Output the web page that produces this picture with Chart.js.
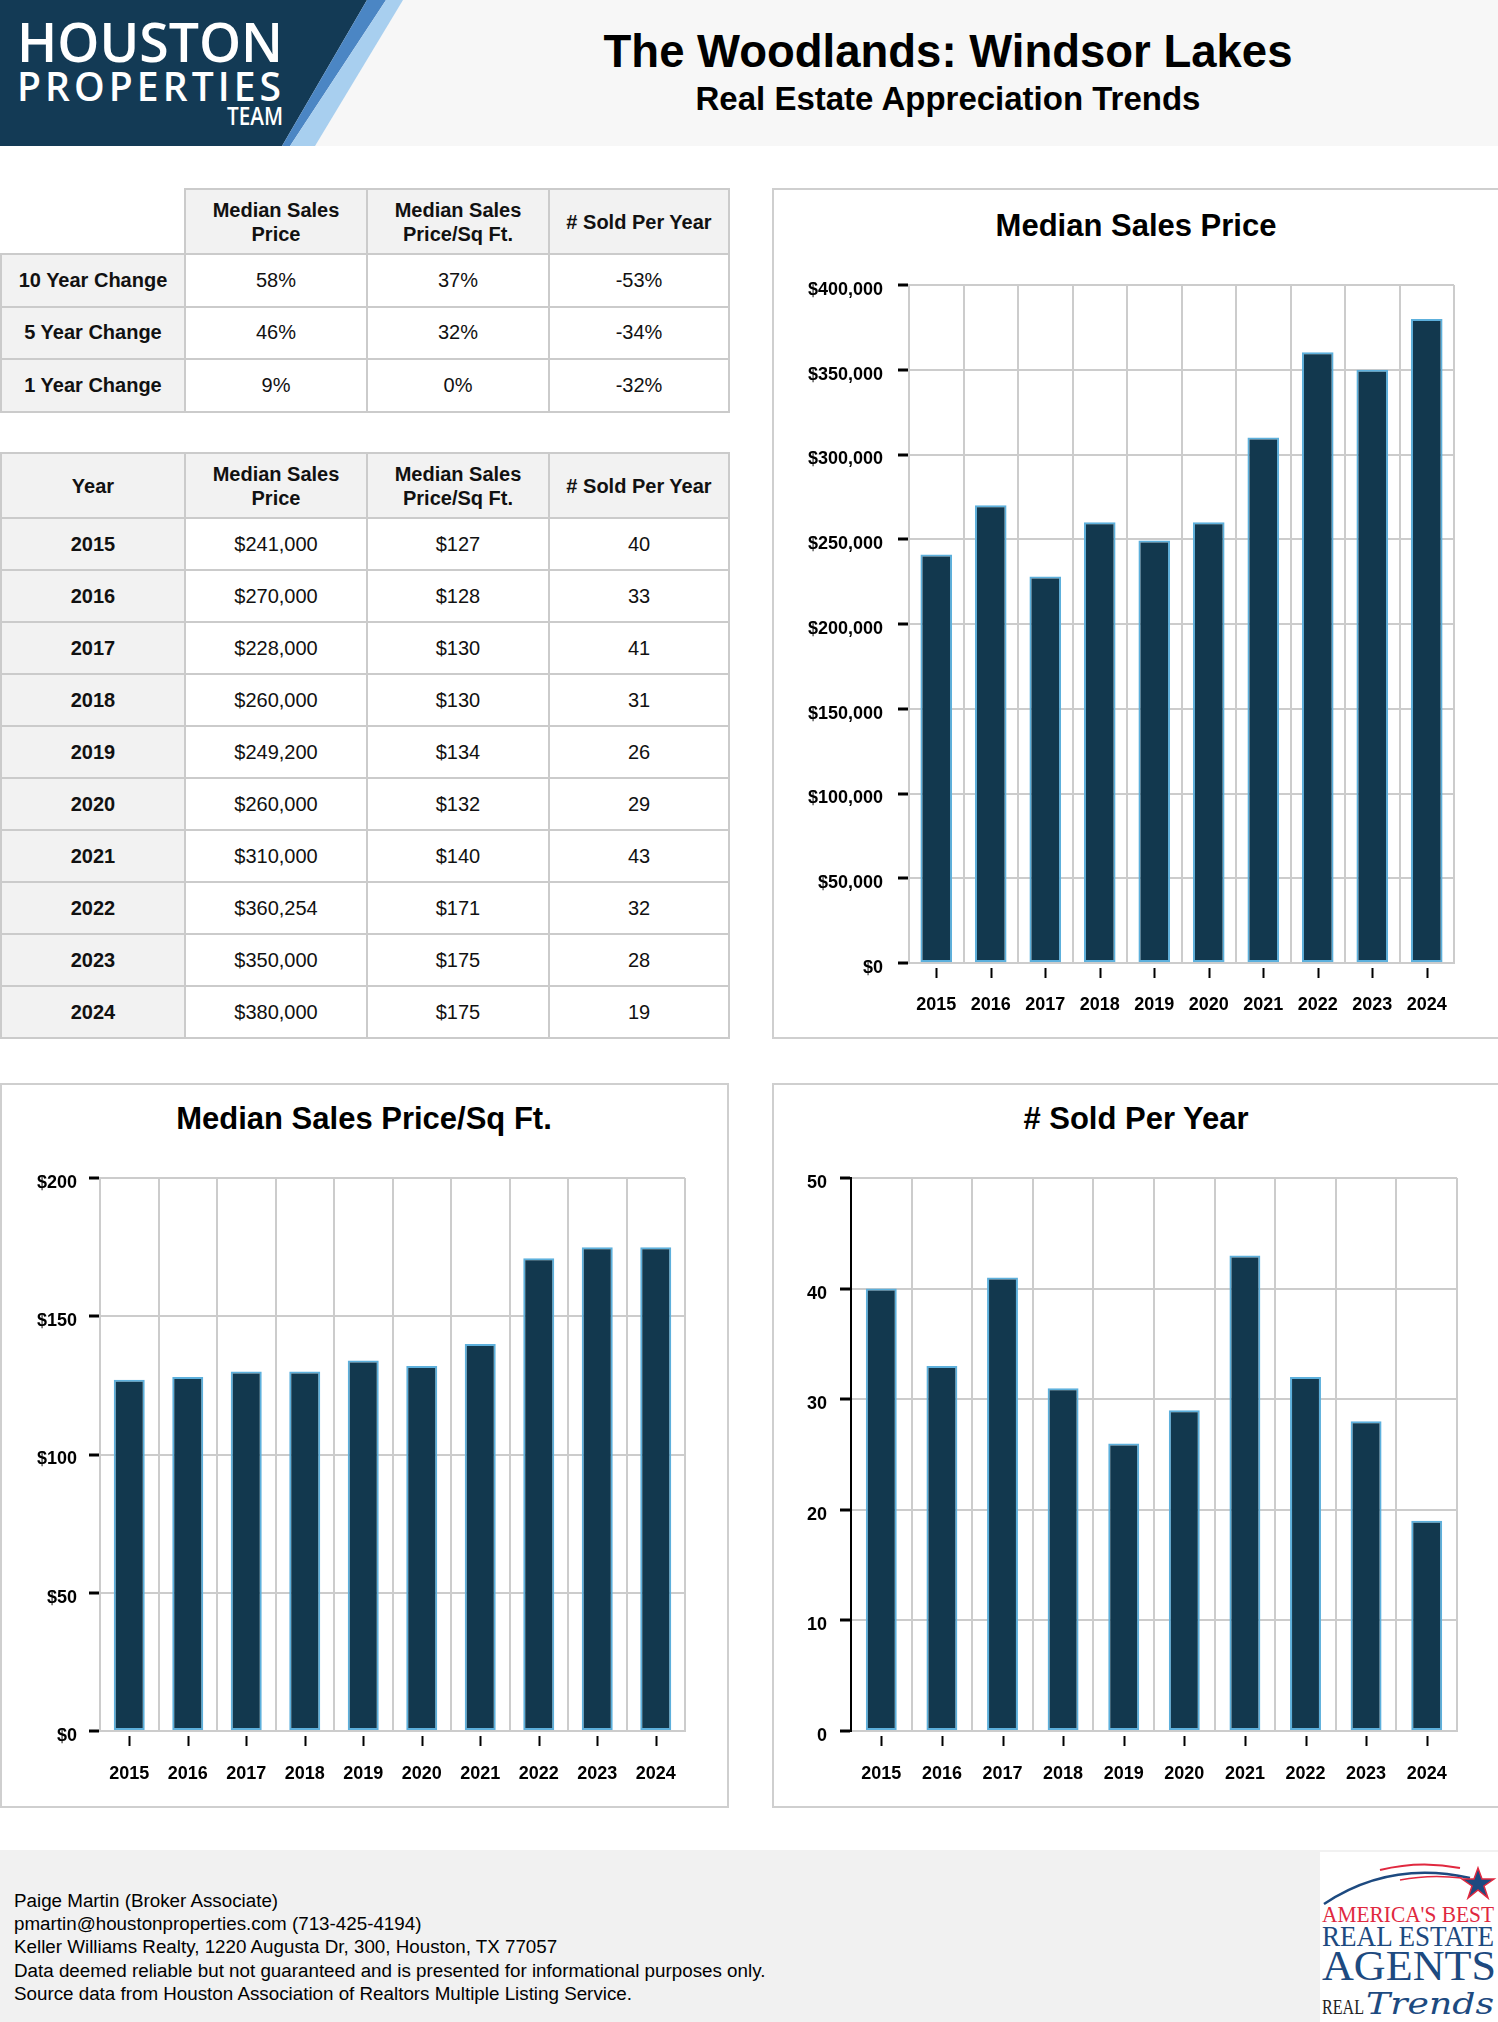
<!DOCTYPE html>
<html>
<head>
<meta charset="utf-8">
<script src="https://cdn.jsdelivr.net/npm/chart.js@4.4.1/dist/chart.umd.min.js"></script>
<style>
  html, body { margin: 0; padding: 0; }
  body { width: 1498px; height: 2022px; position: relative; overflow: hidden; background: #fff;
         font-family: "Liberation Sans", Arial, sans-serif; color: #111; }
  .abs { position: absolute; }
  #header { left: 0; top: 0; width: 1498px; height: 146px; background: #f7f7f7; }
  #title { left: 400px; width: 1096px; top: 24px; text-align: center; font-weight: bold; font-size: 45.5px; line-height: 56px; color: #000; }
  #subtitle { left: 400px; width: 1096px; top: 80px; text-align: center; font-weight: bold; font-size: 33px; line-height: 38px; color: #000; }
  table.stats { position: absolute; left: 0; width: 728px; border-collapse: collapse; table-layout: fixed; font-size: 20px; }
  table.stats td, table.stats th { border: 2px solid #cbcbcb; text-align: center; padding: 0; }
  table.stats th { background: #f2f2f2; font-weight: bold; line-height: 24px; }
  table.stats td.lbl { background: #f2f2f2; font-weight: bold; }
  table.stats th.blank { background: #fff; border-top: 0; border-left: 0; }
  .card { position: absolute; border: 2px solid #cfcfcf; box-sizing: border-box; background: #fff; }
  .ctitle { position: absolute; text-align: center; font-weight: bold; font-size: 31px; line-height: 36px; color: #000; }
  canvas { position: absolute; }
  #footer { left: 0; top: 1850px; width: 1498px; height: 172px; background: #f1f1f1; }
  #footText { left: 14px; top: 1889px; font-size: 18.8px; line-height: 23.2px; color: #000; }
</style>
</head>
<body>

<div id="header" class="abs"></div>
<svg class="abs" style="left:0;top:0" width="420" height="146">
  <defs>
    <linearGradient id="teamLine" x1="0" x2="1" y1="0" y2="0">
      <stop offset="0" stop-color="#ffffff" stop-opacity="0.1"/>
      <stop offset="1" stop-color="#ffffff" stop-opacity="1"/>
    </linearGradient>
  </defs>
  <polygon points="0,0 367,0 282,146 0,146" fill="#133a55"/>
  <polygon points="367,0 386,0 290,146 282,146" fill="#4b86c4"/>
  <polygon points="386,0 403,0 315,146 290,146" fill="#a8cfef"/>
  <text x="17" y="62" font-family="Open Sans, Lato, sans-serif" font-weight="600" font-size="54" fill="#fff" textLength="266" lengthAdjust="spacingAndGlyphs">HOUSTON</text>
  <text x="17" y="101" font-family="Open Sans, Lato, sans-serif" font-weight="600" font-size="39" fill="#fff" textLength="264" lengthAdjust="spacing">PROPERTIES</text>
  <line x1="23" y1="118" x2="218" y2="118" stroke="url(#teamLine)" stroke-width="2"/>
  <text x="227" y="125" font-family="Open Sans, Lato, sans-serif" font-weight="600" font-size="25" fill="#fff" textLength="56" lengthAdjust="spacingAndGlyphs">TEAM</text>
</svg>
<div id="title" class="abs">The Woodlands: Windsor Lakes</div>
<div id="subtitle" class="abs">Real Estate Appreciation Trends</div>

<table id="changeTable" class="stats" style="top:188px"></table>
<table id="yearTable" class="stats" style="top:452px"></table>

<div class="card" style="left:772px;top:188px;width:730px;height:851px"></div>
<div class="ctitle" style="left:772px;width:728px;top:208px">Median Sales Price</div>
<canvas id="priceChart" width="690" height="760" style="left:780px;top:270px"></canvas>

<div class="card" style="left:0;top:1083px;width:729px;height:725px"></div>
<div class="ctitle" style="left:0;width:728px;top:1101px">Median Sales Price/Sq Ft.</div>
<canvas id="sqftChart" width="700" height="635" style="left:0;top:1165px"></canvas>

<div class="card" style="left:772px;top:1083px;width:730px;height:725px"></div>
<div class="ctitle" style="left:772px;width:728px;top:1101px"># Sold Per Year</div>
<canvas id="soldChart" width="690" height="635" style="left:780px;top:1165px"></canvas>

<div id="footer" class="abs"></div>
<div id="footText" class="abs">
  Paige Martin (Broker Associate)<br>
  pmartin@houstonproperties.com (713-425-4194)<br>
  Keller Williams Realty, 1220 Augusta Dr, 300, Houston, TX 77057<br>
  Data deemed reliable but not guaranteed and is presented for informational purposes only.<br>
  Source data from Houston Association of Realtors Multiple Listing Service.
</div>
<svg class="abs" style="left:1320px;top:1852px" width="178" height="170">
  <rect x="0" y="0" width="178" height="170" fill="#fff"/>
  <path d="M4,52 Q70,8 150,26" fill="none" stroke="#1d4a80" stroke-width="2.5"/>
  <path d="M60,18 Q100,8 140,16" fill="none" stroke="#e0283f" stroke-width="2"/>
  <path d="M80,28 Q110,22 142,26" fill="none" stroke="#e0283f" stroke-width="1.5"/>
  <polygon points="158,16 162,27 174,27 164,34 168,46 158,38 148,46 152,34 142,27 154,27" fill="#1d4a80" stroke="#e0283f" stroke-width="1.5"/>
  <text x="2" y="70" font-family="Liberation Serif, serif" font-size="23" fill="#e0283f" textLength="172" lengthAdjust="spacingAndGlyphs">AMERICA'S BEST</text>
  <text x="2" y="94" font-family="Liberation Serif, serif" font-size="29" fill="#1d4a80" textLength="172" lengthAdjust="spacingAndGlyphs">REAL ESTATE</text>
  <text x="2" y="128" font-family="Liberation Serif, serif" font-size="42" fill="#1d4a80" textLength="174" lengthAdjust="spacingAndGlyphs">AGENTS</text>
  <text x="2" y="162" font-family="Liberation Serif, serif" font-size="22" fill="#222" textLength="42" lengthAdjust="spacingAndGlyphs">REAL</text>
  <text x="46" y="162" font-family="DejaVu Serif, serif" font-style="italic" font-size="30" fill="#1d4a80" textLength="128" lengthAdjust="spacingAndGlyphs">Trends</text>
</svg>

<script>
// values
const years = ["2015", "2016", "2017", "2018", "2019", "2020", "2021", "2022", "2023", "2024"];
const medianPrice = [241000, 270000, 228000, 260000, 249200, 260000, 310000, 360254, 350000, 380000];
const pricePerSqFt = [127, 128, 130, 130, 134, 132, 140, 171, 175, 175];
const soldPerYear = [40, 33, 41, 31, 26, 29, 43, 32, 28, 19];

const changeRows = ["10 Year Change", "5 Year Change", "1 Year Change"];
const priceChange = ["58%", "46%", "9%"];
const sqftChange = ["37%", "32%", "0%"];
const soldChange = ["-53%", "-34%", "-32%"];

const columnHeads = ["Median Sales<br>Price", "Median Sales<br>Price/Sq Ft.", "# Sold Per Year"];

const money = (v) => "$" + Number(v).toLocaleString("en-US");

// --- tables ---
function headRow(first) {
  return "<tr style='height:65px'>" + first + columnHeads.map((h) => "<th>" + h + "</th>").join("") + "</tr>";
}

const cols = "<colgroup><col style='width:184px'><col style='width:182px'><col style='width:182px'><col style='width:180px'></colgroup>";

let t1 = cols + headRow("<th class='blank'></th>");
changeRows.forEach((lbl, i) => {
  t1 += "<tr style='height:52.5px'><td class='lbl'>" + lbl + "</td><td>" + priceChange[i] +
        "</td><td>" + sqftChange[i] + "</td><td>" + soldChange[i] + "</td></tr>";
});
document.getElementById("changeTable").innerHTML = t1;

let t2 = cols + headRow("<th>Year</th>");
years.forEach((y, i) => {
  t2 += "<tr style='height:52px'><td class='lbl'>" + y + "</td><td>" + money(medianPrice[i]) +
        "</td><td>" + money(pricePerSqFt[i]) + "</td><td>" + soldPerYear[i] + "</td></tr>";
});
document.getElementById("yearTable").innerHTML = t2;

// --- charts ---
// little black tick marks under each year, placed by the x scale
const yearTicks = {
  id: "yearTicks",
  afterDraw(chart) {
    const x = chart.scales.x;
    const ctx = chart.ctx;
    ctx.save();
    ctx.strokeStyle = "#000";
    ctx.lineWidth = 2;
    x.ticks.forEach((t, i) => {
      const px = Math.round(x.getPixelForTick(i)) + 0.5;
      ctx.beginPath();
      ctx.moveTo(px, x.top + 5);
      ctx.lineTo(px, x.top + 15);
      ctx.stroke();
    });
    ctx.restore();
  },
};

function barChart(id, values, o) {
  const canvas = document.getElementById(id);
  return new Chart(canvas.getContext("2d"), {
    type: "bar",
    data: {
      labels: years,
      datasets: [{
        data: values,
        backgroundColor: "#12384e",
        borderColor: "#5db0dc",
        borderWidth: 2,
        borderSkipped: false,
        categoryPercentage: 1,
        barPercentage: o.barPct,
      }],
    },
    options: {
      responsive: false,
      animation: false,
      devicePixelRatio: 1,
      layout: { padding: { top: o.padTop, right: o.padRight, left: 0, bottom: 0 } },
      plugins: { legend: { display: false }, tooltip: { enabled: false }, title: { display: false } },
      scales: {
        x: {
          grid: { color: "#cccccc", lineWidth: 2, offset: true, drawTicks: false },
          border: { color: "#cccccc", width: 2 },
          ticks: { color: "#000", padding: o.xPad, font: { family: "Liberation Sans", size: 18, weight: "bold" } },
          afterFit: (s) => { s.height = o.xHeight; s.paddingLeft = 0; s.paddingRight = 0; },
        },
        y: {
          min: 0,
          max: o.max,
          grid: { color: "#cccccc", lineWidth: 2, tickColor: "#000", tickLength: o.tickLen, tickWidth: 3 },
          border: { color: o.axisColor, width: 2 },
          ticks: {
            stepSize: o.step,
            color: "#000",
            padding: o.yPad,
            labelOffset: 5,
            font: { family: "Liberation Sans", size: 18, weight: "bold" },
            callback: o.fmt,
          },
          afterFit: (s) => { s.width = o.yWidth; s.paddingTop = 0; s.paddingBottom = 0; },
        },
      },
    },
    plugins: [yearTicks],
  });
}

barChart("priceChart", medianPrice, {
  barPct: 0.58, padTop: 15, padRight: 16, xHeight: 67, xPad: 31, yWidth: 129,
  max: 400000, step: 50000, tickLen: 11, yPad: 15, axisColor: "#cccccc", fmt: (v) => money(v),
});

barChart("sqftChart", pricePerSqFt, {
  barPct: 0.53, padTop: 13, padRight: 15, xHeight: 69, xPad: 32, yWidth: 100,
  max: 200, step: 50, tickLen: 11, yPad: 12, axisColor: "#cccccc", fmt: (v) => money(v),
});

barChart("soldChart", soldPerYear, {
  barPct: 0.51, padTop: 13, padRight: 13, xHeight: 69, xPad: 32, yWidth: 71,
  max: 50, step: 10, tickLen: 11, yPad: 13, axisColor: "#000000", fmt: (v) => v,
});
</script>
</body>
</html>
